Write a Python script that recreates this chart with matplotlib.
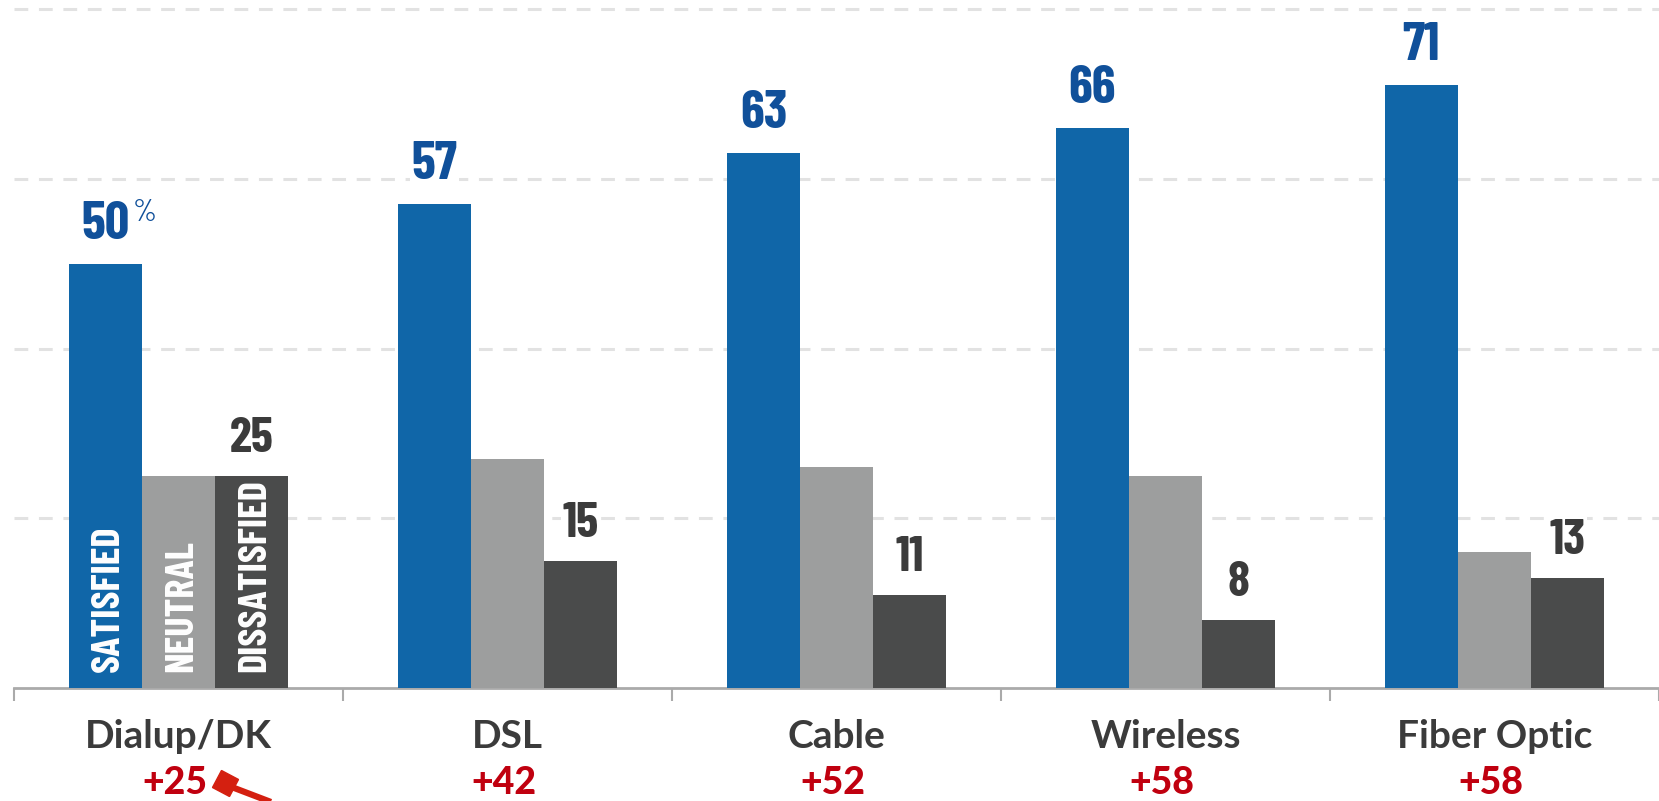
import numpy as np
import matplotlib
matplotlib.use("Agg")
import matplotlib.pyplot as plt
from matplotlib import font_manager
from matplotlib.lines import Line2D
from matplotlib.markers import MarkerStyle
from matplotlib.transforms import Affine2D

# data
categories = ["Dialup/DK", "DSL", "Cable", "Wireless", "Fiber Optic"]
satisfied = [50, 57, 63, 66, 71]
neutral = [25, 27, 26, 25, 16]
dissatisfied = [25, 15, 11, 8, 13]
net = ["+25", "+42", "+52", "+58", "+58"]
series_names = ["SATISFIED", "NEUTRAL", "DISSATISFIED"]

BLUE = "#1066a8"
BLUE_TXT = "#10509a"
GRAY = "#9d9e9e"
DARK = "#4a4b4b"
TXT = "#3b3b3b"
RED = "#c0000f"


def pick(cands):
    names = {f.name for f in font_manager.fontManager.ttflist}
    for c in cands:
        if c in names:
            return c
    return "DejaVu Sans"


COND = pick(["Barlow Condensed", "Fjalla One", "Liberation Sans Narrow"])
CAT = pick(["Lato", "Open Sans"])

W, H, DPI = 1659, 801, 100
fig = plt.figure(figsize=(W / DPI, H / DPI), dpi=DPI)
left = 14 / W
ax = fig.add_axes([left, 1 - 688 / H, 1 - left, 688 / H])

x = np.arange(len(categories))
bw = 0.222
cols = [BLUE, GRAY, DARK]
series = [satisfied, neutral, dissatisfied]
for k, (vals, c) in enumerate(zip(series, cols)):
    ax.bar(x + (k - 1) * bw, vals, width=bw, color=c, zorder=3)

ax.set_xlim(-0.5, 4.5)
ax.set_ylim(0, 688 / 8.486)

# dashed gridlines behind the bars
for g in [20, 40, 60, 80]:
    ax.axhline(g, color="#e2e2e2", lw=2.2, ls=(0, (4.5, 3.5)), zorder=1)

for s in ["top", "right", "left"]:
    ax.spines[s].set_visible(False)
ax.spines["bottom"].set_color("#aaaaaa")
ax.spines["bottom"].set_linewidth(2)
ax.set_yticks([])
ax.set_xticks(np.arange(-0.5, 4.6, 1.0))
ax.set_xticklabels([])
ax.tick_params(axis="x", length=9, width=1.5, color="#aaaaaa", direction="out")

box = dict(facecolor="white", edgecolor="none", pad=1)
for i in range(len(categories)):
    ax.annotate(str(satisfied[i]), xy=(x[i] - bw, satisfied[i]), xytext=(0, 25),
                textcoords="offset pixels", ha="center", va="baseline",
                fontsize=39, fontweight="bold", family=COND, color=BLUE_TXT,
                bbox=box, zorder=4)
    ax.annotate(str(dissatisfied[i]), xy=(x[i] + bw, dissatisfied[i]), xytext=(0, 24),
                textcoords="offset pixels", ha="center", va="baseline",
                fontsize=36, fontweight="bold", family=COND, color=TXT,
                bbox=box, zorder=4)
ax.annotate("%", xy=(x[0] - bw, satisfied[0]), xytext=(27, 43),
            textcoords="offset pixels", ha="left", va="baseline",
            fontsize=22, family=COND, color=BLUE_TXT, zorder=5)

# series names written inside the first group
for k, name in enumerate(series_names):
    ax.annotate(name, xy=(x[0] + (k - 1) * bw, 0), xytext=(3, 16),
                textcoords="offset pixels", rotation=90, ha="center", va="bottom",
                fontsize=29, fontweight="bold", family=COND, color="white", zorder=5)

# category names and net scores
for i, cat in enumerate(categories):
    ax.annotate(cat, xy=(x[i], 0), xytext=(0, -49), textcoords="offset pixels",
                ha="center", va="center", fontsize=28, fontweight="bold",
                family=CAT, color=TXT, annotation_clip=False)
    ax.annotate(net[i], xy=(x[i], 0), xytext=(-4, -95), textcoords="offset pixels",
                ha="center", va="center", fontsize=27, fontweight="black",
                family=CAT, color=RED, annotation_clip=False)

# red pointer arrow to the first net score
fx = lambda px: px / W
fy = lambda py: 1 - py / H
fig.add_artist(Line2D([fx(229), fx(305)], [fy(786), fy(815)], transform=fig.transFigure,
                      color="#d42010", lw=4.5, solid_capstyle="butt", clip_on=False))
head = MarkerStyle("s", transform=Affine2D().rotate_deg(-27))
fig.add_artist(Line2D([fx(225)], [fy(783)], transform=fig.transFigure, marker=head,
                      markersize=14, color="#d42010", lw=0, clip_on=False))

fig.savefig("out.png", dpi=DPI, facecolor="white")
